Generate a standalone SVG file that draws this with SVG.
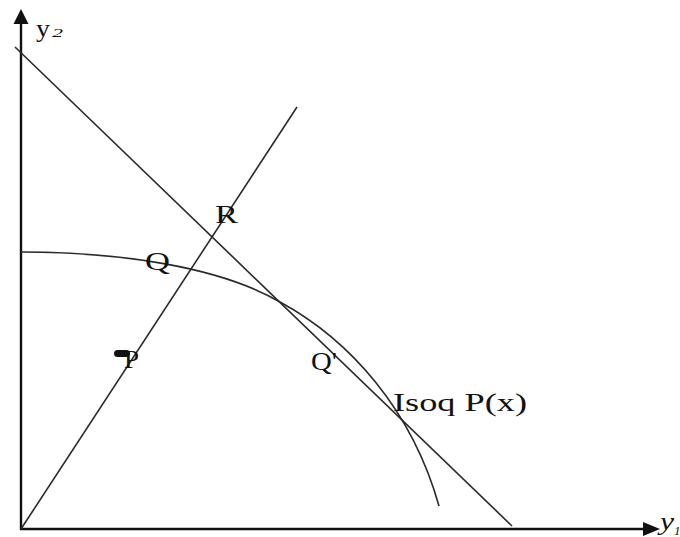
<svg xmlns="http://www.w3.org/2000/svg" width="680" height="537" viewBox="0 0 680 537">
<style>
.axis{stroke:#111;stroke-width:2.4;fill:none}
.ln{stroke:#2a2a2a;stroke-width:1.6;fill:none}
.lbl{font-family:"Liberation Serif","Times New Roman",serif;font-size:26px;fill:#111}
.ax{font-family:"Liberation Serif","Times New Roman",serif;font-style:italic;font-size:26px;fill:#111}
</style>
<rect width="680" height="537" fill="#fff"/>
<g id="axes">
<line class="axis" x1="21" y1="530" x2="21" y2="20"/>
<polygon points="21,9 13.5,24 28.5,24" fill="#111"/>
<line class="axis" x1="20" y1="529" x2="648" y2="529"/>
<polygon points="660,529 643,522 643,536" fill="#111"/>
<text class="ax" x="36" y="37" style="font-style:normal" textLength="14" lengthAdjust="spacingAndGlyphs">y</text>
<text class="ax" x="52" y="37" style="font-size:13px" textLength="11" lengthAdjust="spacingAndGlyphs">2</text>
<text class="ax" x="660" y="530" textLength="14" lengthAdjust="spacingAndGlyphs">y</text>
<text class="ax" x="674" y="535" style="font-size:13px">1</text>
</g>
<g id="connectors">
<line id="ray" class="ln" x1="21" y1="529" x2="297" y2="107"/>
<line id="budget" class="ln" x1="15" y1="47" x2="512" y2="526"/>
</g>
<g id="isoquant">
<path class="ln" d="M21,252 C120,252 220,267 280,302 C350,340 412,410 439,506"/>
<text class="lbl" x="393" y="411" textLength="134" lengthAdjust="spacingAndGlyphs">Isoq P(x)</text>
</g>
<g id="node-R"><text class="lbl" x="215" y="223" textLength="23" lengthAdjust="spacingAndGlyphs">R</text></g>
<g id="node-Q"><text class="lbl" x="145" y="270" textLength="25" lengthAdjust="spacingAndGlyphs">Q</text></g>
<g id="node-P">
<rect x="114" y="350" width="16" height="7" rx="3.5" fill="#111"/>
<text class="lbl" x="124" y="368" textLength="15" lengthAdjust="spacingAndGlyphs">P</text>
</g>
<g id="node-Qp"><text class="lbl" x="311" y="370" textLength="26" lengthAdjust="spacingAndGlyphs">Q'</text></g>
</svg>
